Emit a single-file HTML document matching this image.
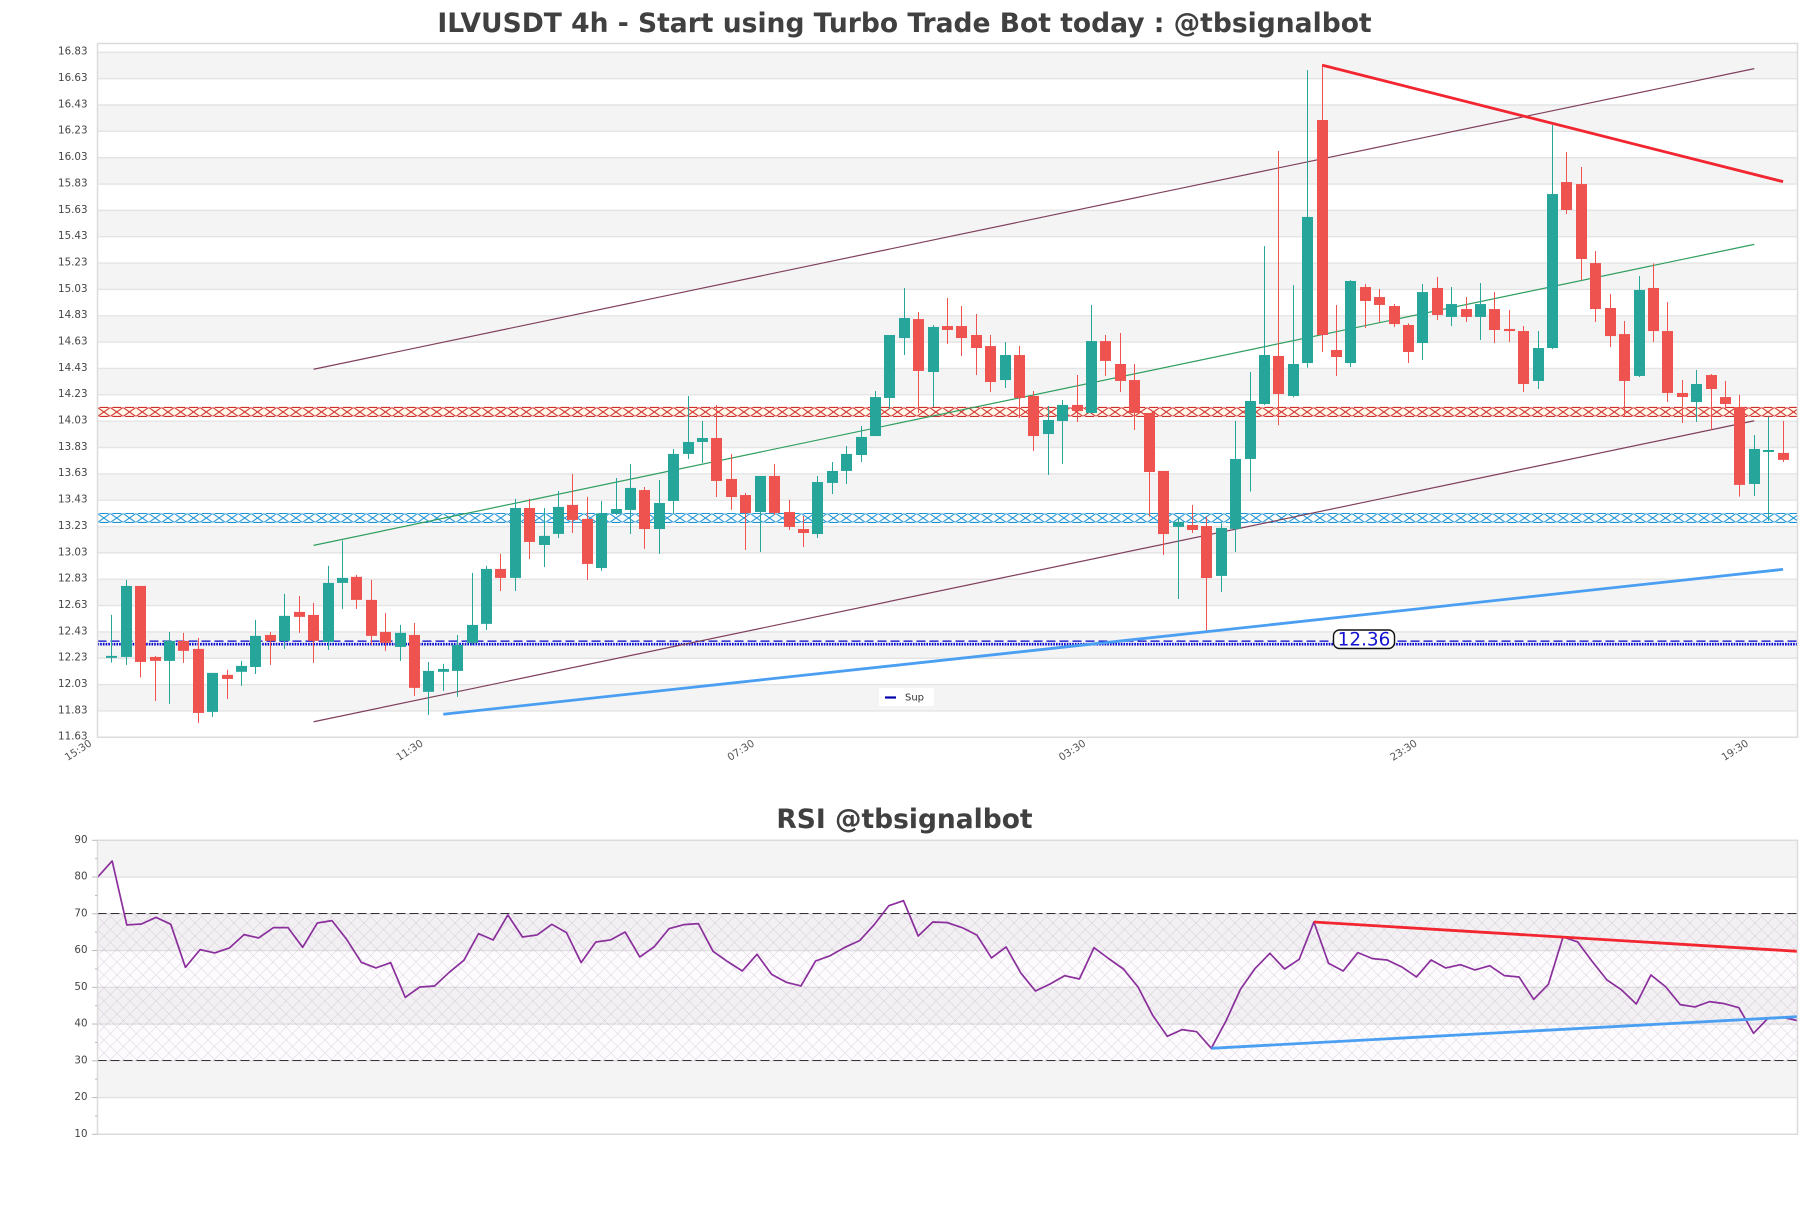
<!DOCTYPE html>
<html lang="en">
<head>
<meta charset="utf-8">
<title>ILVUSDT 4h chart</title>
<style>
html,body{margin:0;padding:0;background:#fff;}
body{width:1811px;height:1208px;overflow:hidden;}
svg{display:block;font-family:"DejaVu Sans","Liberation Sans",sans-serif;}
</style>
</head>
<body>
<svg id="root" xmlns="http://www.w3.org/2000/svg" width="1811" height="1208" viewBox="0 0 1811 1208">
  <defs>
    <pattern id="hatch-red" x="97.5" width="12.8" height="9" patternUnits="userSpaceOnUse">
      <path d="M0 0L12.8 9M12.8 0L0 9" stroke="#d02c2c" stroke-width="1.1" fill="none"/>
    </pattern>
    <pattern id="hatch-blue" x="97.5" width="12.8" height="9" patternUnits="userSpaceOnUse">
      <path d="M0 0L12.8 9M12.8 0L0 9" stroke="#1f93d2" stroke-width="1.1" fill="none"/>
    </pattern>
    <pattern id="hatch-rsi" width="13" height="13" patternUnits="userSpaceOnUse">
      <path d="M0 0L13 13M13 0L0 13" stroke="#a58ab0" stroke-width="0.6" stroke-opacity="0.33" fill="none"/>
    </pattern>
  </defs>
  <text x="904.5" y="32" text-anchor="middle" font-size="26.55" font-weight="700" fill="#404040">ILVUSDT 4h - Start using Turbo Trade Bot today : @tbsignalbot</text>
  <text x="904.5" y="828" text-anchor="middle" font-size="26.5" font-weight="700" fill="#404040">RSI @tbsignalbot</text>
  <g id="price-bands"></g>
  <g id="price-levels"></g>
  <g id="price-thin"></g>
  <g id="price-candles"></g>
  <g id="price-thick"></g>
  <rect x="97.5" y="43.5" width="1700" height="693.8" fill="none" stroke="#dcdcdc" stroke-width="1.5"/>
  <g id="price-axis"></g>
  <g id="time-axis"></g>
  <g>
    <rect x="1333.5" y="630" width="61" height="18.5" rx="6" ry="6" fill="#fff" stroke="#111" stroke-width="1.4"/>
    <text x="1364" y="645.6" text-anchor="middle" font-size="18.4" fill="#1212d0">12.36</text>
  </g>
  <g>
    <rect x="879" y="688" width="55" height="18" fill="#fff"/>
    <line x1="885" x2="896" y1="697.5" y2="697.5" stroke="#0000aa" stroke-width="2.2"/>
    <text x="905" y="700.5" font-size="10" fill="#333">Sup</text>
  </g>
  <g id="rsi-bands"></g>
  <g id="rsi-marks"></g>
  <rect x="97.5" y="840.3" width="1700" height="294" fill="none" stroke="#dcdcdc" stroke-width="1.5"/>
  <g id="rsi-axis"></g>
</svg>
<script>
const opens = [
12.233,12.240,12.779,12.240,12.210,12.362,12.301,11.823,12.104,12.127,
12.164,12.407,12.362,12.582,12.559,12.354,12.802,12.848,12.673,12.430,
12.316,12.407,11.975,12.127,12.134,12.347,12.491,12.908,12.840,13.371,
13.090,13.174,13.394,13.288,12.915,13.330,13.356,13.507,13.211,13.424,
13.781,13.872,13.902,13.591,13.469,13.340,13.614,13.340,13.211,13.173,
13.561,13.652,13.773,13.917,14.206,14.661,14.805,14.403,14.752,14.752,
14.684,14.600,14.342,14.532,14.221,13.932,14.031,14.153,14.092,14.638,
14.464,14.342,14.092,13.652,13.227,13.242,13.234,12.855,13.212,13.743,
14.160,14.525,14.221,14.471,16.316,14.570,14.471,15.048,14.972,14.904,
14.760,14.623,15.041,14.821,14.881,14.821,14.881,14.730,14.714,14.335,
14.585,15.845,15.830,15.230,14.889,14.691,14.373,15.041,14.714,14.244,
14.175,14.380,14.213,14.137,13.553,13.796,13.789];
const closes = [
12.248,12.779,12.202,12.210,12.362,12.286,11.815,12.119,12.073,12.172,
12.400,12.362,12.552,12.544,12.362,12.802,12.840,12.673,12.400,12.347,
12.423,12.005,12.134,12.149,12.331,12.483,12.908,12.840,13.371,13.113,
13.159,13.379,13.280,12.946,13.330,13.363,13.523,13.211,13.409,13.781,
13.872,13.902,13.576,13.454,13.333,13.614,13.333,13.227,13.181,13.568,
13.652,13.781,13.910,14.213,14.684,14.813,14.411,14.745,14.722,14.661,
14.585,14.327,14.532,14.206,13.917,14.039,14.153,14.107,14.638,14.487,
14.335,14.092,13.644,13.173,13.265,13.204,12.839,13.219,13.743,14.183,
14.532,14.236,14.464,15.580,14.684,14.517,15.094,14.942,14.912,14.767,
14.555,15.010,14.836,14.919,14.821,14.919,14.722,14.714,14.312,14.585,
15.754,15.633,15.261,14.881,14.676,14.335,15.026,14.714,14.244,14.213,
14.312,14.274,14.160,13.546,13.819,13.811,13.736];
const highs = [
12.559,12.825,12.779,12.248,12.430,12.423,12.385,12.119,12.142,12.210,
12.521,12.430,12.719,12.703,12.650,12.931,13.123,12.863,12.825,12.574,
12.483,12.498,12.202,12.187,12.407,12.878,12.931,13.022,13.440,13.440,
13.371,13.500,13.629,13.455,13.424,13.598,13.705,13.530,13.583,13.819,
14.221,14.031,14.153,13.781,13.485,13.614,13.705,13.432,13.310,13.614,
13.720,13.841,13.993,14.259,14.684,15.041,14.858,14.760,14.965,14.904,
14.843,14.684,14.631,14.600,14.259,14.145,14.191,14.380,14.912,14.684,
14.699,14.464,14.092,13.652,13.305,13.394,13.305,13.255,14.032,14.403,
15.359,16.081,15.063,16.695,16.733,14.912,15.101,15.071,15.033,14.919,
14.772,15.071,15.124,15.048,14.972,15.079,15.010,14.874,14.752,14.714,
16.278,16.073,15.959,15.321,14.995,14.790,15.132,15.228,14.934,14.342,
14.418,14.388,14.335,14.229,13.925,14.065,14.032];
const lows = [
12.197,12.180,12.084,11.906,11.884,12.195,11.739,11.785,11.921,12.020,
12.111,12.180,12.301,12.423,12.195,12.293,12.605,12.605,12.331,12.286,
12.210,11.944,11.800,11.982,11.937,12.331,12.445,12.741,12.741,12.984,
12.923,13.143,13.181,12.825,12.893,13.318,13.173,13.060,13.022,13.330,
13.743,13.712,13.454,13.356,13.052,13.037,13.318,13.204,13.075,13.143,
13.477,13.553,13.720,13.917,14.122,14.532,14.092,14.137,14.616,14.524,
14.380,14.251,14.282,14.054,13.803,13.621,13.705,14.024,14.092,14.373,
14.251,13.963,13.305,13.014,12.680,13.181,12.437,12.734,13.037,13.495,
14.153,13.999,14.211,14.436,14.555,14.373,14.441,14.737,14.783,14.745,
14.471,14.494,14.798,14.752,14.783,14.646,14.623,14.631,14.251,14.274,
14.578,15.602,15.101,14.783,14.593,14.064,14.365,14.631,14.175,14.016,
14.024,13.963,14.115,13.457,13.462,13.273,13.720];
const rsiValues = [
79.93,84.37,66.96,67.23,69.04,67.14,55.44,60.25,59.34,60.70,
64.33,63.42,66.23,66.23,60.88,67.50,68.14,63.06,56.80,55.26,
56.71,47.27,50.09,50.36,54.08,57.34,64.60,62.88,69.68,63.69,
64.24,67.14,64.87,56.71,62.33,62.88,65.05,58.25,61.06,65.96,
67.05,67.32,59.79,56.98,54.44,58.98,53.53,51.36,50.36,57.16,
58.61,60.88,62.69,67.05,72.22,73.58,63.96,67.77,67.59,66.23,
64.24,57.98,60.97,53.90,49.00,50.90,53.17,52.26,60.79,57.80,
54.98,50.09,42.38,36.66,38.48,37.93,33.40,40.83,49.54,55.17,
59.25,54.98,57.61,67.77,56.53,54.44,59.43,57.80,57.43,55.53,
52.81,57.43,55.26,56.16,54.71,55.89,53.17,52.81,46.73,50.81,
63.69,62.33,56.98,51.99,49.27,45.46,53.35,50.18,45.28,44.65,
46.10,45.55,44.46,37.48,41.65,41.83,40.93];
const priceTicks = ['16.83','16.63','16.43','16.23','16.03','15.83','15.63','15.43','15.23','15.03','14.83','14.63','14.43','14.23','14.03','13.83','13.63','13.43','13.23','13.03','12.83','12.63','12.43','12.23','12.03','11.83','11.63'];
const rsiTicks = [90,80,70,60,50,40,30,20,10];
const rsiMinorTicks = [85,75,65,55,45,35,25,15];
const timeLabels = ['15:30','11:30','07:30','03:30','23:30','19:30'];
const timeLabelStep = [23];
const resistanceLevel = [14.10];
const midLevel = [13.295];
const levelHalfWidth = [0.034];
const supLevel = [12.36];
const supDottedLevel = [12.337];
const upperChannel = [14,14.424,114,16.706];
const middleChannel = [14,13.087,114,15.372];
const lowerChannel = [14,11.748,114,14.033];
const priceResistanceTrend = [84,16.733,116,15.848];
const priceSupportTrend = [23,11.805,116,12.905];
const rsiResistanceTrend = [83,67.77,116,59.79];
const rsiSupportTrend = [76,33.40,116,42.00];
const rsiLimits = [70,30];

const SVG_NS = 'http://www.w3.org/2000/svg';
const PLOT_LEFT = 97.5, PLOT_RIGHT = 1797.5;
const CANDLE_STEP = (PLOT_RIGHT - PLOT_LEFT) / 118;
const RSI_STEP = (PLOT_RIGHT - PLOT_LEFT) / 116;
function priceY(p){ return 737.3 - (p - 11.63) * 131.73; }
function candleX(i){ return PLOT_LEFT + CANDLE_STEP * (i + 1); }
function axisX(i){ return PLOT_LEFT + CANDLE_STEP * i; }
function rsiX(i){ return PLOT_LEFT + RSI_STEP * i; }
function rsiY(v){ return 1134.3 - (v - 10) * 3.675; }
function mk(tag, attrs, parent){
  const el = document.createElementNS(SVG_NS, tag);
  for (const k in attrs) el.setAttribute(k, attrs[k]);
  parent.appendChild(el);
  return el;
}
const g = id => document.getElementById(id);

/* price bands and grid */
priceTicks.forEach(function(t, i){
  const y = priceY(+t);
  if (i < priceTicks.length - 1 && i % 2 === 0) {
    const band = mk('rect', {x: PLOT_LEFT, y: y, width: PLOT_RIGHT - PLOT_LEFT, height: priceY(+priceTicks[i + 1]) - y, fill: '#f4f4f4'}, g('price-bands'));
    
    
  }
});
priceTicks.forEach(function(t){
  const y = priceY(+t);
  const line = mk('line', {x1: PLOT_LEFT, x2: PLOT_RIGHT, y1: y, y2: y, stroke: '#e4e4e4', 'stroke-width': 1.4}, g('price-bands'));
  
  
  const label = mk('text', {x: 87.5, y: y + 2.4, 'text-anchor': 'end', 'font-size': 10.3, fill: '#444'}, g('price-axis'));
  label.textContent = t;
  
  
});

/* time axis */
timeLabels.forEach(function(t, k){
  const x = axisX(k * timeLabelStep[0]) - 5;
  const label = mk('text', {x: x, y: 745, 'text-anchor': 'end', 'font-size': 10.3, fill: '#555', transform: 'rotate(-33 ' + x + ' 745)'}, g('time-axis'));
  label.textContent = t;
  
  
});

/* horizontal price levels */
function levelBand(level, patternId, bg, stroke, name){
  const top = priceY(level + levelHalfWidth[0]);
  const bottom = priceY(level - levelHalfWidth[0]);
  const w = PLOT_RIGHT - PLOT_LEFT;
  g(patternId).setAttribute('y', top);
  g(patternId).setAttribute('height', bottom - top);
  const back = mk('rect', {x: PLOT_LEFT, y: top, width: w, height: bottom - top, fill: bg}, g('price-levels'));
  
  
  const hatch = mk('rect', {x: PLOT_LEFT, y: top, width: w, height: bottom - top, fill: 'url(#' + patternId + ')'}, g('price-levels'));
  
  
  const upper = mk('line', {x1: PLOT_LEFT, x2: PLOT_RIGHT, y1: top, y2: top, stroke: stroke, 'stroke-width': 1.1, 'stroke-dasharray': '9 3.8', 'stroke-dashoffset': '-2'}, g('price-levels'));
  
  
  const lower = mk('line', {x1: PLOT_LEFT, x2: PLOT_RIGHT, y1: bottom, y2: bottom, stroke: stroke, 'stroke-width': 1.1, 'stroke-dasharray': '9 3.8', 'stroke-dashoffset': '-2'}, g('price-levels'));
  
  
}
levelBand(resistanceLevel[0], 'hatch-red', '#fff9ea', '#d02c2c', 'resistance-band');
levelBand(midLevel[0], 'hatch-blue', '#ffffff', '#1f93d2', 'mid-band');

const supDash = mk('line', {x1: PLOT_LEFT, x2: PLOT_RIGHT, y1: priceY(supLevel[0]), y2: priceY(supLevel[0]), stroke: '#0000cc', 'stroke-width': 1.2, 'stroke-dasharray': '9 4'}, g('price-levels'));


const supDots = mk('line', {x1: PLOT_LEFT, x2: PLOT_RIGHT, y1: priceY(supDottedLevel[0]), y2: priceY(supDottedLevel[0]), stroke: '#0000cc', 'stroke-width': 2.6, 'stroke-dasharray': '1.6 1.1'}, g('price-levels'));



/* thin channel lines */
function trendLine(t, xFn, yFn, parent, stroke, width){
  return mk('line', {x1: xFn(t[0]), y1: yFn(t[1]), x2: xFn(t[2]), y2: yFn(t[3]), stroke: stroke, 'stroke-width': width}, parent);
}
const upperLine = trendLine(upperChannel, candleX, priceY, g('price-thin'), '#7f3f5c', 1.2);


const middleLine = trendLine(middleChannel, candleX, priceY, g('price-thin'), '#2f9e5f', 1.2);


const lowerLine = trendLine(lowerChannel, candleX, priceY, g('price-thin'), '#7f3f5c', 1.2);



/* candles */
opens.forEach(function(o, i){
  const c = closes[i];
  const up = c >= o;
  const color = up ? '#26a69a' : '#ef5350';
  const x = Math.floor(candleX(i)) + 0.5;
  const wick = mk('line', {x1: x, x2: x, y1: priceY(highs[i]), y2: priceY(lows[i]), stroke: color, 'stroke-width': 1}, g('price-candles'));
  
  
  const top = priceY(Math.max(o, c));
  const h = Math.max(Math.abs(priceY(o) - priceY(c)), 1);
  const body = mk('rect', {x: x - 5.5, y: top, width: 11, height: h, fill: color}, g('price-candles'));
  
  
});

/* thick trend lines */
const resLine = trendLine(priceResistanceTrend, candleX, priceY, g('price-thick'), '#f22630', 2.8);


const supLine = trendLine(priceSupportTrend, candleX, priceY, g('price-thick'), '#4a9ff2', 2.8);



/* rsi bands, grid, ticks */
rsiTicks.forEach(function(t, i){
  if (i < rsiTicks.length - 1 && i % 2 === 0) {
    const band = mk('rect', {x: PLOT_LEFT, y: rsiY(t), width: PLOT_RIGHT - PLOT_LEFT, height: rsiY(rsiTicks[i + 1]) - rsiY(t), fill: '#f4f4f4'}, g('rsi-bands'));
    
    
  }
});
rsiTicks.forEach(function(t){
  const y = rsiY(t);
  const line = mk('line', {x1: PLOT_LEFT, x2: PLOT_RIGHT, y1: y, y2: y, stroke: '#e2e2e2', 'stroke-width': 1.3}, g('rsi-bands'));
  
  
  const tick = mk('line', {x1: 92, x2: PLOT_LEFT, y1: y, y2: y, stroke: '#bbb', 'stroke-width': 1}, g('rsi-axis'));
  
  
  const label = mk('text', {x: 87.5, y: y + 2.6, 'text-anchor': 'end', 'font-size': 10.3, fill: '#444'}, g('rsi-axis'));
  label.textContent = t;
  
  
});
rsiMinorTicks.forEach(function(t){
  const tick = mk('line', {x1: 95, x2: PLOT_LEFT, y1: rsiY(t), y2: rsiY(t), stroke: '#bbb', 'stroke-width': 1}, g('rsi-axis'));
  
  
});

/* rsi overbought / oversold zone */
const zoneTop = rsiY(rsiLimits[0]);
const zoneBottom = rsiY(rsiLimits[1]);
const zoneTint = mk('rect', {x: PLOT_LEFT, y: zoneTop, width: PLOT_RIGHT - PLOT_LEFT, height: zoneBottom - zoneTop, fill: '#b080b0', 'fill-opacity': 0.03}, g('rsi-marks'));


const zoneHatch = mk('rect', {x: PLOT_LEFT, y: zoneTop, width: PLOT_RIGHT - PLOT_LEFT, height: zoneBottom - zoneTop, fill: 'url(#hatch-rsi)'}, g('rsi-marks'));


rsiLimits.forEach(function(v){
  const y = Math.floor(rsiY(v)) + 0.5;
  const limit = mk('line', {x1: PLOT_LEFT, x2: PLOT_RIGHT, y1: y, y2: y, stroke: '#333', 'stroke-width': 1, 'stroke-dasharray': '9 4'}, g('rsi-marks'));
  
  
});

/* rsi series */
const rsiPath = mk('polyline', {points: rsiValues.map(function(v, i){ return rsiX(i).toFixed(2) + ',' + rsiY(v).toFixed(2); }).join(' '), fill: 'none', stroke: '#8a2f9c', 'stroke-width': 1.7, 'stroke-linejoin': 'round'}, g('rsi-marks'));


const rsiRes = trendLine(rsiResistanceTrend, rsiX, rsiY, g('rsi-marks'), '#f22630', 2.8);


const rsiSup = trendLine(rsiSupportTrend, rsiX, rsiY, g('rsi-marks'), '#4a9ff2', 2.8);


</script>
</body>
</html>
